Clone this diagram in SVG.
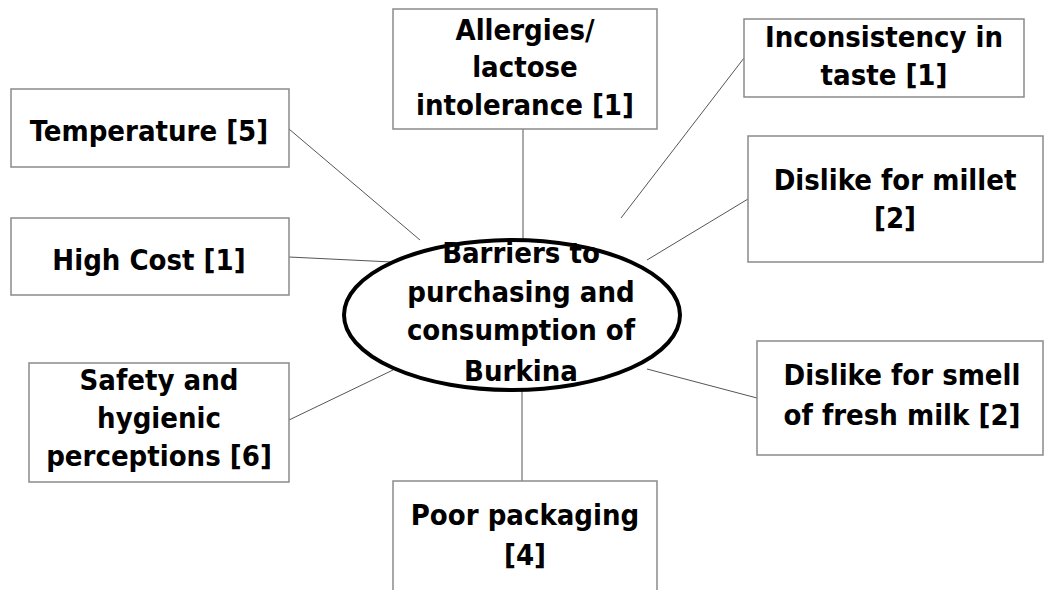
<svg xmlns="http://www.w3.org/2000/svg" width="1046" height="590" viewBox="0 0 1046 590">
<style>
.box{fill:#fff;stroke:#8a8a8a;stroke-width:1.5}
.t{font-family:"DejaVu Sans Condensed","DejaVu Sans",sans-serif;font-stretch:condensed;font-weight:bold;font-size:29px;fill:#000;text-anchor:middle}
.c{stroke:#555;stroke-width:1;fill:none}
</style>
<rect width="1046" height="590" fill="#fff"/>
<g id="connectors">
<line class="c" x1="289" y1="129" x2="420" y2="240"/>
<line class="c" x1="289" y1="257" x2="392" y2="262"/>
<line class="c" x1="523" y1="129" x2="523" y2="240"/>
<line class="c" x1="744" y1="58" x2="621" y2="218"/>
<line class="c" x1="748" y1="199" x2="647" y2="260"/>
<line class="c" x1="757" y1="398" x2="647" y2="369"/>
<line class="c" x1="289" y1="420" x2="393" y2="370"/>
<line class="c" x1="522" y1="388" x2="522" y2="481"/>
</g>
<g id="temperature"><rect class="box" x="11" y="89" width="278" height="78"/><text class="t" x="149" y="141">Temperature [5]</text></g>
<g id="high-cost"><rect class="box" x="11" y="218" width="278" height="77"/><text class="t" x="149" y="270">High Cost [1]</text></g>
<g id="allergies"><rect class="box" x="393" y="9" width="264" height="120"/><text class="t" x="525" y="40">Allergies/</text><text class="t" x="525" y="77">lactose</text><text class="t" x="525" y="115">intolerance [1]</text></g>
<g id="inconsistency"><rect class="box" x="744" y="19" width="280" height="78"/><text class="t" x="884" y="47">Inconsistency in</text><text class="t" x="884" y="85">taste [1]</text></g>
<g id="millet"><rect class="box" x="748" y="136" width="295" height="126"/><text class="t" x="895" y="190">Dislike for millet</text><text class="t" x="895" y="228">[2]</text></g>
<g id="smell"><rect class="box" x="757" y="341" width="286" height="114"/><text class="t" x="902" y="385">Dislike for smell</text><text class="t" x="902" y="425">of fresh milk [2]</text></g>
<g id="safety"><rect class="box" x="29" y="363" width="260" height="119"/><text class="t" x="159" y="390">Safety and</text><text class="t" x="159" y="428">hygienic</text><text class="t" x="159" y="466">perceptions [6]</text></g>
<g id="packaging"><rect class="box" x="393" y="481" width="264" height="120"/><text class="t" x="525" y="525">Poor packaging</text><text class="t" x="525" y="565">[4]</text></g>
<g id="center"><ellipse cx="512" cy="315" rx="168" ry="75" fill="#fff" stroke="#000" stroke-width="4"/><text class="t" x="521" y="263">Barriers to</text><text class="t" x="521" y="302">purchasing and</text><text class="t" x="521" y="340">consumption of</text><text class="t" x="521" y="381">Burkina</text></g>
</svg>
